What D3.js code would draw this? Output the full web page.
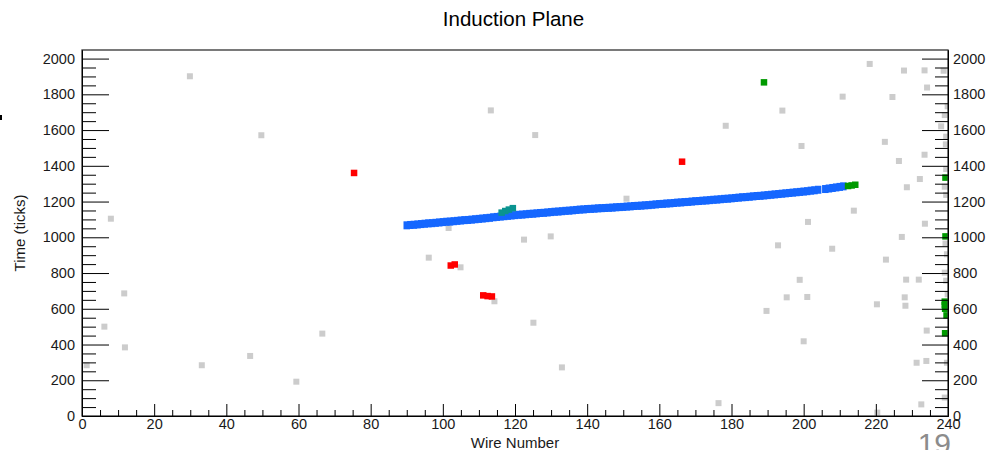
<!DOCTYPE html>
<html>
<head>
<meta charset="utf-8">
<script src="https://cdn.jsdelivr.net/npm/d3@7"></script>
<style>
  html, body { margin: 0; padding: 0; background: #fff; }
  svg { display: block; font-family: "Liberation Sans", Arial, Helvetica, sans-serif; }
</style>
</head>
<body>
<svg id="chart" width="988" height="450"></svg>
<script>
// ---------- data ----------
const chartTitle = "Induction Plane";
const xTitle = "Wire Number";
const yTitle = "Time (ticks)";
const xDomain = [0, 240];
const yDomain = [0, 2048];
const xMajorTicks = [0, 20, 40, 60, 80, 100, 120, 140, 160, 180, 200, 220, 240];
const yMajorTicks = [0, 200, 400, 600, 800, 1000, 1200, 1400, 1600, 1800, 2000];

// unassociated hits [wire, tick]
const grayHits = [
  [1.3,284],[6.2,500],[8.0,1104],[11.7,686],[11.9,384],[29.9,1901],[33.2,284],[46.6,336],
  [49.7,1571],[59.4,192],[66.6,461],[96.1,886],[101.6,1052],[104.9,832],[113.3,1710],[114.3,642],
  [122.5,987],[125.1,522],[125.6,1572],[129.9,1005],[133.0,272],[150.9,1216],[176.4,72],[178.4,1624],
  [189.7,588],[192.9,955],[194.1,1709],[195.3,664],[199.4,1511],[198.9,762],[200.0,418],[201.0,666],
  [201.2,1086],[207.9,936],[210.8,1787],[213.9,1149],[218.3,1970],[220.3,625],[220.4,19],[222.5,1534],
  [222.8,875],[224.6,1785],[226.4,1427],[227.2,1002],[227.8,1933],[228.0,664],[228.2,617],[228.4,763],
  [228.6,1280],[231.3,298],[231.9,763],[232.2,1326],[232.6,65],[233.5,1934],[233.5,1462],[233.6,1076],
  [234.0,308],[234.1,478],[234.2,1838],[238.1,1621],[238.8,1932],[239.1,1684],[239.1,1283],[239.1,802],
  [239.1,103],[239.3,965],[239.4,1520],[239.5,1563],[239.5,1382],[239.5,1237],[239.5,757],[239.7,905],
  [239.7,298],[239.9,1733],[239.9,681]
];

// track hits (blue cluster): wire numbers and ticks
const trackWires = [
  90,91,92,93,94,95,96,97,98,99,100,101,102,103,104,105,106,107,108,109,
  110,111,112,113,114,115,116,117,118,119,120,121,122,123,124,125,126,127,128,129,
  130,131,132,133,134,135,136,137,138,139,140,141,142,143,144,145,146,147,148,149,
  150,151,152,153,154,155,156,157,158,159,160,161,162,163,164,165,166,167,168,169,
  170,171,172,173,174,175,176,177,178,179,180,181,182,183,184,185,186,187,188,189,
  190,191,192,193,194,195,196,197,198,199,200,201,202,203,204,206,207,208,209,210,211
];
const trackTicks = [
  1067,1069,1070,1072,1074,1076,1078,1079,1081,1083,1085,1087,1088,1090,1092,1094,1096,1097,1099,1101,
  1103,1105,1107,1109,1112,1114,1116,1118,1120,1122,1124,1126,1127,1129,1131,1132,1134,1136,1137,1139,
  1141,1143,1144,1146,1148,1149,1151,1153,1155,1156,1158,1159,1160,1162,1163,1164,1165,1166,1168,1169,
  1170,1172,1173,1175,1176,1177,1179,1180,1182,1184,1186,1187,1189,1190,1192,1194,1195,1197,1198,1200,
  1202,1203,1205,1206,1208,1210,1211,1213,1215,1216,1218,1220,1222,1224,1225,1227,1229,1231,1232,1234,
  1236,1238,1240,1242,1244,1246,1248,1250,1252,1254,1256,1258,1261,1263,1266,1270,1273,1276,1279,1282,1285
];

const redHits = [
  [75.4,1360],[102.2,842],[103.3,848],[111.2,675],[112.4,671],[113.6,669],[166.3,1423]
];
const tealHits = [
  [116.3,1138],[117.3,1147],[118.3,1155],[119.4,1163]
];
const greenHits = [
  [189.0,1867],[212.3,1287],[213.3,1290],[214.3,1294],
  [239.3,1334],[239.3,1005],[239.1,640],[239.1,620],[239.2,600],[239.6,563],[239.2,463]
];

const pageNumber = "19";

// ---------- layout ----------
const svg = d3.select("#chart");
const L = 82, R = 948, T = 50, B = 416;
const x = d3.scaleLinear().domain(xDomain).range([L, R]);
const y = d3.scaleLinear().domain(yDomain).range([B, T]);

const range = (a, b, s) => d3.range(a, b + s / 2, s);
const xMinor = range(0, 240, 5).filter(v => v % 20 !== 0);
const yMinor = range(0, 2000, 50).filter(v => v % 200 !== 0);

svg.append("defs").append("clipPath").attr("id", "plotclip")
  .append("rect").attr("x", L).attr("y", T).attr("width", R - L).attr("height", B - T);

// hits
const plot = svg.append("g").attr("clip-path", "url(#plotclip)");

function drawHits(data, color, w, h) {
  plot.append("g").selectAll("rect").data(data).join("rect")
    .attr("x", d => x(d[0]) - w / 2)
    .attr("y", d => y(d[1]) - h / 2)
    .attr("width", w).attr("height", h)
    .attr("fill", color);
}
drawHits(grayHits, "#cccccc", 6, 6);
const trackHits = trackWires.map((w, i) => [w, trackTicks[i]]);
drawHits(trackHits, "#1567ff", 6.5, 8);
drawHits(tealHits, "#0a9490", 6.5, 6.5);
drawHits(redHits, "#ff0000", 6.5, 6.5);
drawHits(greenHits, "#009a00", 6.5, 6.5);

// frame
svg.append("rect").attr("x", L).attr("y", T).attr("width", R - L).attr("height", B - T)
  .attr("fill", "none").attr("stroke", "#333").attr("stroke-width", 1.3);

const fontSize = "14.5px";
function styleAxis(g) {
  g.select(".domain").attr("stroke", "#000");
  g.selectAll(".tick line").attr("stroke", "#000");
  g.selectAll(".tick text").attr("fill", "#1a1a1a").style("font-size", fontSize)
    .style("font-family", '"Liberation Sans", Arial, sans-serif');
}

// bottom axis
svg.append("g").attr("transform", `translate(0,${B})`)
  .call(d3.axisBottom(x).tickValues(xMinor).tickFormat("").tickSizeInner(-6).tickSizeOuter(0))
  .call(styleAxis);
svg.append("g").attr("transform", `translate(0,${B})`)
  .call(d3.axisBottom(x).tickValues(xMajorTicks).tickFormat(d3.format("d")).tickSizeInner(-12).tickSizeOuter(0).tickPadding(3))
  .call(styleAxis);

// left axis
svg.append("g").attr("transform", `translate(${L},0)`)
  .call(d3.axisLeft(y).tickValues(yMinor).tickFormat("").tickSizeInner(-14).tickSizeOuter(0))
  .call(styleAxis);
svg.append("g").attr("transform", `translate(${L},0)`)
  .call(d3.axisLeft(y).tickValues(yMajorTicks).tickFormat(d3.format("d")).tickSizeInner(-27).tickSizeOuter(0).tickPadding(7))
  .call(styleAxis);

// right axis
svg.append("g").attr("transform", `translate(${R},0)`)
  .call(d3.axisRight(y).tickValues(yMinor).tickFormat("").tickSizeInner(-13).tickSizeOuter(0))
  .call(styleAxis);
svg.append("g").attr("transform", `translate(${R},0)`)
  .call(d3.axisRight(y).tickValues(yMajorTicks).tickFormat(d3.format("d")).tickSizeInner(-26).tickSizeOuter(0).tickPadding(5))
  .call(styleAxis);

// titles
svg.append("text").attr("x", 513.5).attr("y", 26).attr("text-anchor", "middle")
  .style("font-size", "20.5px").attr("fill", "#000").text(chartTitle);
svg.append("text").attr("x", (L + R) / 2).attr("y", 448).attr("text-anchor", "middle")
  .style("font-size", "15px").attr("fill", "#1a1a1a").text(xTitle);
svg.append("text").attr("transform", `translate(25,${(T + B) / 2}) rotate(-90)`)
  .attr("text-anchor", "middle").style("font-size", "15px").attr("fill", "#1a1a1a").text(yTitle);

// page decorations
svg.append("text").attr("x", 951).attr("y", 454).attr("text-anchor", "end")
  .style("font-size", "30px").attr("fill", "#8c8c8c").text(pageNumber);
svg.append("rect").attr("x", 0).attr("y", 115).attr("width", 2).attr("height", 5).attr("fill", "#000");
</script>
</body>
</html>
